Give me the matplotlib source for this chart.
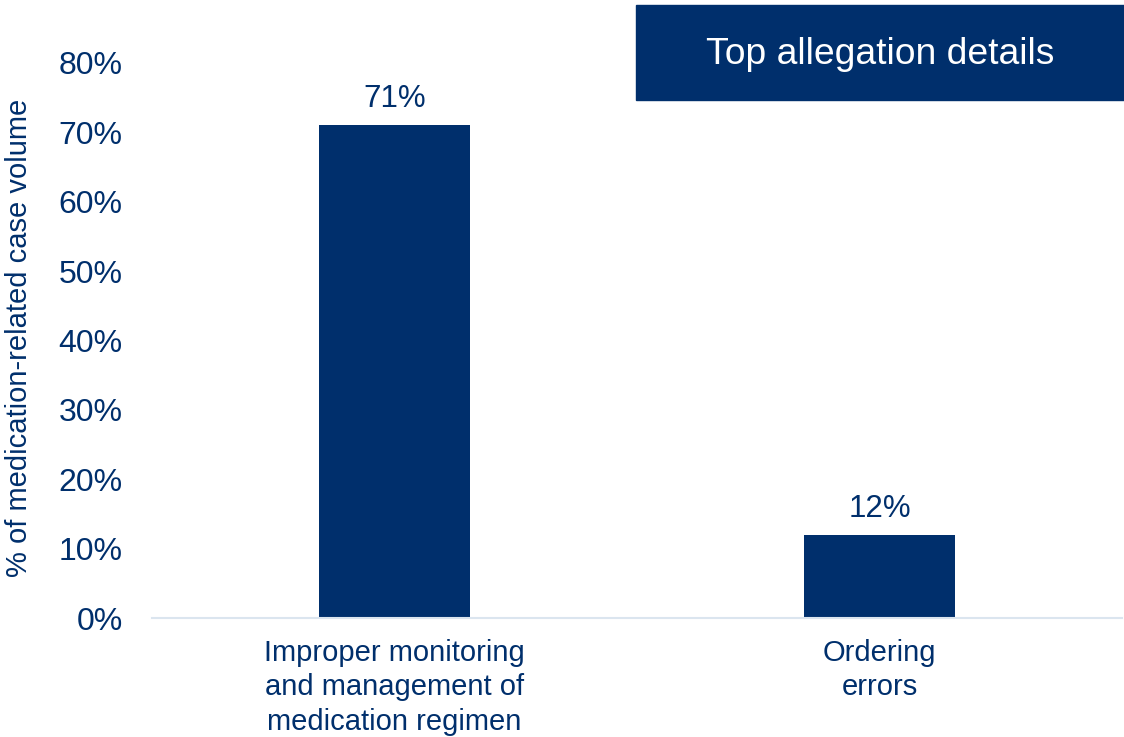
import matplotlib.pyplot as plt

plt.rcParams['font.family'] = ['Liberation Sans', 'DejaVu Sans']

categories = ["Improper monitoring\nand management of\nmedication regimen", "Ordering\nerrors"]
shares = [71, 12]
yticks = [0, 10, 20, 30, 40, 50, 60, 70, 80]

navy = '#002F6C'

fig = plt.figure(figsize=(11.24, 7.37), dpi=100)
ax = fig.add_axes([152 / 1124, 1 - 618 / 737, 970 / 1124, 555 / 737])

x = range(len(categories))
bars = ax.bar(x, shares, width=0.31, color=navy, zorder=2)
for b, v in zip(bars, shares):
    ax.text(b.get_x() + b.get_width() / 2, v + 1.6, f"{v}%", ha='center', va='bottom',
            fontsize=22.5, color=navy)

ax.set_xlim(-0.5, 1.5)
ax.set_ylim(0, 80)
ax.set_yticks(yticks)
ax.set_yticklabels([f"{t}%" for t in yticks], fontsize=23, color=navy)
ax.set_xticks(list(x))
ax.set_xticklabels(categories, fontsize=21, color=navy, linespacing=1.3)
ax.tick_params(axis='both', length=0)
ax.tick_params(axis='y', pad=21)
ax.tick_params(axis='x', pad=15)

for side in ['top', 'right', 'left']:
    ax.spines[side].set_visible(False)
ax.spines['bottom'].set_color('#dbe5ef')
ax.spines['bottom'].set_linewidth(1.5)

fig.text(19 / 1124, 1 - 338 / 737, "% of medication-related case volume", rotation=90,
         ha='center', va='center', fontsize=21, color=navy)

# header box in the top right corner
fig.patches.append(plt.Rectangle((636 / 1124, 1 - 100 / 737), 488 / 1124, 95 / 737,
                                 transform=fig.transFigure, color=navy, zorder=0))
fig.text(880 / 1124, 1 - 54 / 737, "Top allegation details", ha='center', va='center',
         fontsize=26.8, color='white')

fig.savefig('out.png', dpi=100)
